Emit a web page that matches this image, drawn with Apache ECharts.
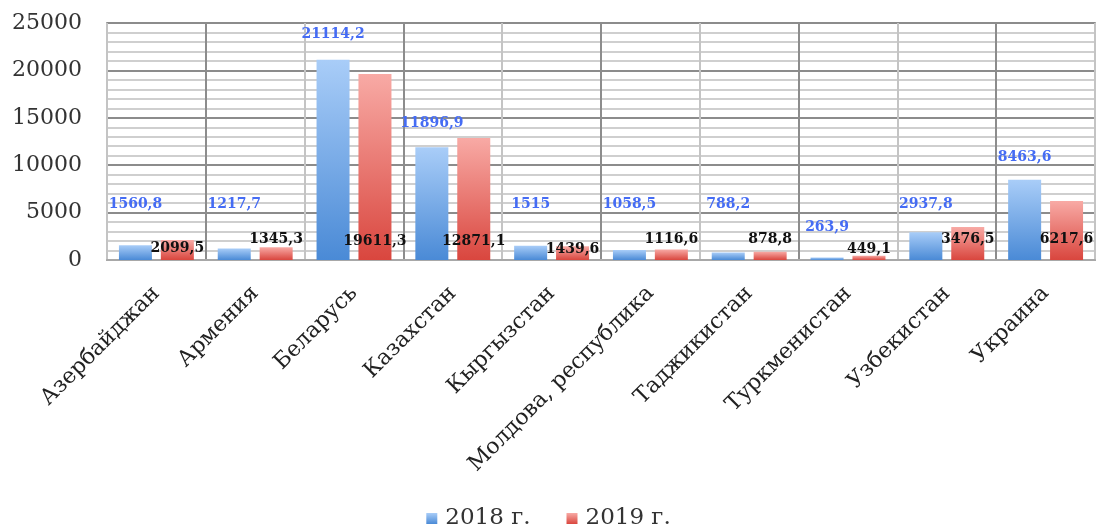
<!DOCTYPE html>
<html>
<head>
<meta charset="utf-8">
<script src="https://cdn.jsdelivr.net/npm/echarts@6/dist/echarts.min.js"></script>
<style>
  html, body { margin: 0; padding: 0; background: #fff; }
  #box1 { width: 1097px; height: 531px; }
</style>
</head>
<body>
<div id="box1"></div>
<script>
/* countries and values */
var countries = ['Азербайджан', 'Армения', 'Беларусь', 'Казахстан', 'Кыргызстан',
    'Молдова, республика', 'Таджикистан', 'Туркменистан', 'Узбекистан', 'Украина'];
var values2018 = [1560.8, 1217.7, 21114.2, 11896.9, 1515, 1058.5, 788.2, 263.9, 2937.8, 8463.6];
var values2019 = [2099.5, 1345.3, 19611.3, 12871.1, 1439.6, 1116.6, 878.8, 449.1, 3476.5, 6217.6];
var yTicks = [0, 5000, 10000, 15000, 20000, 25000];

// label lift above the axis (px), labels were hand placed in the original
var lift2018 = [49, 49, 219, 130, 49, 49, 49, 26, 49, 96];
var lift2019 = [5, 14, 12, 12, 4, 14, 14, 4, 14, 14];

var dom = document.getElementById("box1");
var myChart = echarts.init(dom);

var serif = 'DejaVu Serif';

function fmt(v) {
    return String(v).replace('.', ',');
}

function buildData(values, lifts) {
    return values.map(function (v, i) {
        return { value: v, label: { distance: lifts[i] } };
    });
}

var blueFill = new echarts.graphic.LinearGradient(0, 0, 0, 1, [
    { offset: 0, color: '#a9cdf8' },
    { offset: 1, color: '#4a8ad6' }
]);
var redFill = new echarts.graphic.LinearGradient(0, 0, 0, 1, [
    { offset: 0, color: '#f8aaa5' },
    { offset: 1, color: '#d9463e' }
]);

// half-category grid lines
var halves = [];
countries.forEach(function (c) { halves.push(c + '-a', c + '-b'); });

option = {
    animation: false,
    grid: {
        left: 107, right: 2, top: 23, bottom: 271,
        show: true, borderColor: '#a8a8a8', borderWidth: 2
    },
    legend: {
        top: 502,
        left: 'center',
        icon: 'rect',
        itemWidth: 11,
        itemHeight: 11,
        itemGap: 36,
        textStyle: { fontFamily: serif, fontSize: 23, color: '#333', padding: [0, 0, 0, 3] },
        data: ['2018 г.', '2019 г.']
    },
    xAxis: [{
        type: 'category',
        data: countries,
        axisTick: { show: false },
        axisLine: { lineStyle: { color: '#a8a8a8', width: 2 } },
        axisLabel: {
            interval: 0, rotate: 45, margin: 30,
            fontFamily: serif, fontSize: 22, color: '#222'
        },
        splitLine: { show: true, lineStyle: { color: '#8c8c8c', width: 2 } }
    }, {
        type: 'category',
        data: halves,
        position: 'bottom',
        axisTick: { show: false },
        axisLine: { show: false },
        axisLabel: { show: false },
        splitLine: { show: true, lineStyle: { color: '#c4c4c4', width: 2 } }
    }],
    yAxis: {
        type: 'value',
        min: yTicks[0],
        max: yTicks[yTicks.length - 1],
        interval: 5000,
        axisLine: { show: false },
        axisTick: { show: false },
        axisLabel: {
            margin: 25, fontFamily: serif, fontSize: 22, color: '#333',
            formatter: function (v) { return String(v); }
        },
        splitLine: { lineStyle: { color: '#8c8c8c', width: 2 } },
        minorTick: { show: false, splitNumber: 5 },
        minorSplitLine: { show: true, lineStyle: { color: '#cfcfcf', width: 2 } }
    },
    series: [{
        name: '2018 г.',
        type: 'bar',
        barWidth: 33,
        barGap: '27%',
        itemStyle: { color: blueFill },
        label: {
            show: true,
            position: 'insideBottom',
            fontFamily: serif, fontWeight: 'bold', fontSize: 14,
            color: '#456cf4',
            formatter: function (p) { return fmt(p.value); }
        },
        data: buildData(values2018, lift2018)
    }, {
        name: '2019 г.',
        type: 'bar',
        barWidth: 33,
        itemStyle: { color: redFill },
        label: {
            show: true,
            position: 'insideBottom',
            fontFamily: serif, fontWeight: 'bold', fontSize: 14,
            color: '#111',
            formatter: function (p) { return fmt(p.value); }
        },
        data: buildData(values2019, lift2019)
    }]
};

if (option && typeof option === "object") {
    myChart.setOption(option, true);
}
</script>
</body>
</html>
